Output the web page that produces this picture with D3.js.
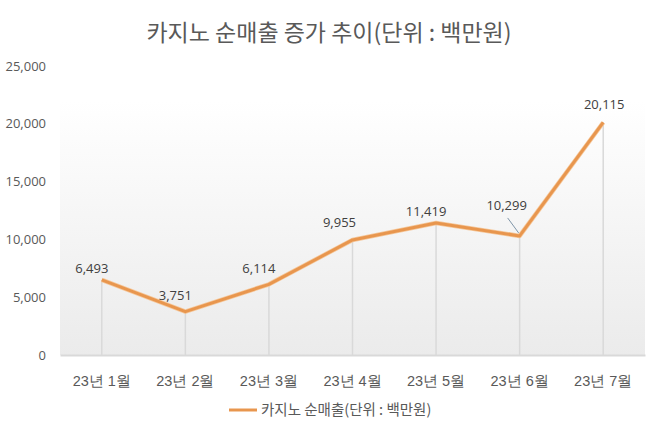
<!DOCTYPE html>
<html><head><meta charset="utf-8">
<script src="https://cdn.jsdelivr.net/npm/d3@7"></script>
<style>body{margin:0;background:#fff;} svg{display:block;font-family:"Noto Sans CJK KR","Noto Sans",sans-serif;}</style>
</head><body>
<svg id="c" width="658" height="427"></svg>
<script>
const categories = ["23년 1월","23년 2월","23년 3월","23년 4월","23년 5월","23년 6월","23년 7월"];
const values = [6493, 3751, 6114, 9955, 11419, 10299, 20115];
const yTicks = [0, 5000, 10000, 15000, 20000, 25000];
const title = "카지노 순매출 증가 추이(단위 : 백만원)";
const seriesName = "카지노 순매출(단위 : 백만원)";

// label placement (layout only): dx, dy from point
const labelOffsets = [[-10,-7],[-10,-12],[-10,-11],[-13,-13],[-10,-7],[-13,-26],[1,-13]];

const svg = d3.select("#c");
const L = 60, R = 645, T = 66, B = 355;
const x = d3.scaleBand().domain(categories).range([L, R]);
const y = d3.scaleLinear().domain([0, 25000]).range([B, T]);
const fmt = d3.format(",");
const numFont = "'Segoe UI','Open Sans','Noto Sans',sans-serif";

const defs = svg.append("defs");
const g = defs.append("linearGradient").attr("id","bg").attr("x1",0).attr("y1",0).attr("x2",0).attr("y2",1);
g.append("stop").attr("offset","0%").attr("stop-color","#ffffff");
g.append("stop").attr("offset","100%").attr("stop-color","#ebebeb");
svg.append("rect").attr("x",L).attr("y",y(22000)).attr("width",R-L).attr("height",B-y(22000)).attr("fill","url(#bg)");

svg.append("text").attr("x",329).attr("y",41).attr("text-anchor","middle")
  .attr("font-size",23).attr("fill","#595959").text(title);

// y axis
const ya = svg.append("g").attr("transform",`translate(${L-14},0)`)
  .call(d3.axisLeft(y).tickValues(yTicks).tickFormat(fmt).tickSize(0).tickPadding(0));
ya.select(".domain").remove();
ya.selectAll("text").attr("font-size",13).attr("fill","#595959").attr("font-family",numFont);

// drop lines
const px = i => x(categories[i]) + x.bandwidth()/2;
svg.selectAll(".drop").data(values).enter().append("line")
  .attr("x1",(d,i)=>px(i)).attr("x2",(d,i)=>px(i))
  .attr("y1",d=>y(d)).attr("y2",B).attr("stroke","#d9d9d9").attr("stroke-width",1.5);

// x axis
const xa = svg.append("g").attr("transform",`translate(0,${B})`)
  .call(d3.axisBottom(x).tickSize(0).tickPadding(21));
xa.select(".domain").attr("stroke","#d9d9d9").attr("stroke-width",2);
xa.selectAll("text").attr("font-size",14.5).attr("fill","#595959");

// line
const line = d3.line().x((d,i)=>px(i)).y(d=>y(d));
svg.append("path").datum(values).attr("d",line).attr("fill","none")
  .attr("stroke","#f5c89c").attr("stroke-width",4.5).attr("stroke-linejoin","round");
svg.append("path").datum(values).attr("d",line).attr("fill","none")
  .attr("stroke","#e8964e").attr("stroke-width",3).attr("stroke-linejoin","round");

// labels
values.forEach((v,i)=>{
  const [dx, dy] = labelOffsets[i];
  if (i === 5) {
    svg.append("line").attr("x1",px(i)-12).attr("y1",y(v)-18).attr("x2",px(i)-1).attr("y2",y(v)-3)
      .attr("stroke","#7f95a8").attr("stroke-width",1);
  }
  svg.append("text").attr("x",px(i)+dx).attr("y",y(v)+dy).attr("text-anchor","middle")
    .attr("font-size",13).attr("fill","#404040").attr("font-family",numFont).text(fmt(v));
});

// legend
svg.append("line").attr("x1",229).attr("x2",257).attr("y1",410).attr("y2",410)
  .attr("stroke","#e8964e").attr("stroke-width",3);
svg.append("text").attr("x",261).attr("y",415).attr("font-size",14.5).attr("fill","#595959").text(seriesName);
</script>
</body></html>
